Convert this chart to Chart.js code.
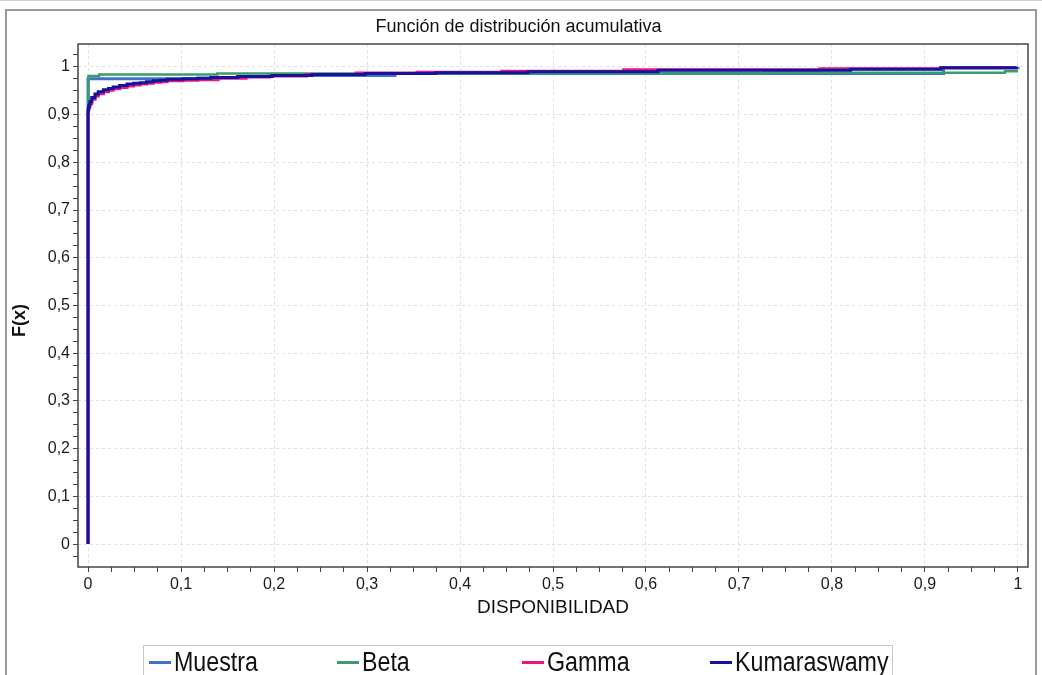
<!DOCTYPE html>
<html>
<head>
<meta charset="utf-8">
<title>Función de distribución acumulativa</title>
<script src="https://cdn.jsdelivr.net/npm/chart.js@4"></script>
<style>
  body { margin: 0; background: #fff; overflow: hidden; }
  #contenedor { position: relative; width: 1042px; height: 675px; }
  #leyenda {
    position: absolute; left: 143px; top: 645px; width: 750px; height: 40px;
    border: 1px solid #c6c6c6; box-sizing: border-box;
    font-family: "Liberation Sans", Arial, sans-serif;
    font-size: 27px; color: #111;
  }
  .item { position: absolute; top: 1px; height: 30px; display: flex; align-items: center; white-space: nowrap; }
  .linea { width: 22px; height: 3px; margin-right: 3px; }
  .texto { display: inline-block; transform: scaleX(0.86); transform-origin: left center; }
</style>
</head>
<body>
<div id="contenedor">
  <canvas id="myChart" width="1042" height="675"></canvas>
  <div id="leyenda"></div>
</div>
<script>
// series (x = disponibilidad, y = F(x))
const muestraX = [0, 0, 0.102, 0.118, 0.132, 0.161, 0.198, 0.33, 0.92, 1.0];
const muestraY = [0, 0.975, 0.975, 0.976, 0.978, 0.980, 0.982, 0.986, 0.998, 1.0];

const betaX = [0, 0.0005, 0.012, 0.139, 0.727, 0.986, 1.0];
const betaY = [0.915, 0.981, 0.984, 0.986, 0.988, 0.991, 0.991];

const gammaX = [0, 0, 0.0005, 0.001, 0.002, 0.004, 0.0075, 0.011, 0.0165, 0.022, 0.027, 0.034, 0.042, 0.049, 0.056, 0.063, 0.07, 0.078, 0.085, 0.102, 0.118, 0.14, 0.17, 0.195, 0.235, 0.288, 0.354, 0.445, 0.576, 0.787, 0.917, 0.998];
const gammaY = [0, 0.905, 0.911, 0.916, 0.923, 0.932, 0.939, 0.944, 0.948, 0.951, 0.954, 0.957, 0.960, 0.962, 0.964, 0.966, 0.968, 0.969, 0.971, 0.972, 0.973, 0.976, 0.979, 0.981, 0.984, 0.987, 0.989, 0.991, 0.994, 0.996, 0.998, 1.0];

const kumX = [0, 0, 0.0005, 0.001, 0.002, 0.004, 0.0075, 0.011, 0.0165, 0.022, 0.027, 0.034, 0.042, 0.049, 0.056, 0.063, 0.07, 0.078, 0.085, 0.102, 0.118, 0.132, 0.161, 0.198, 0.241, 0.298, 0.374, 0.473, 0.613, 0.82, 0.917, 0.998];
const kumY = [0, 0.91, 0.915, 0.92, 0.927, 0.936, 0.943, 0.948, 0.952, 0.955, 0.958, 0.961, 0.964, 0.966, 0.967, 0.969, 0.971, 0.972, 0.974, 0.975, 0.976, 0.978, 0.980, 0.982, 0.984, 0.986, 0.988, 0.990, 0.993, 0.995, 0.998, 1.0];

const nombres = ["Muestra", "Beta", "Gamma", "Kumaraswamy"];
const colores = ["#3f73c8", "#3a9c6c", "#e8177d", "#13139e"];

// marcas de los ejes
const ticksX = [0, 0.1, 0.2, 0.3, 0.4, 0.5, 0.6, 0.7, 0.8, 0.9, 1];
const etiquetasX = ["0", "0,1", "0,2", "0,3", "0,4", "0,5", "0,6", "0,7", "0,8", "0,9", "1"];
const ticksY = [0, 0.1, 0.2, 0.3, 0.4, 0.5, 0.6, 0.7, 0.8, 0.9, 1];
const etiquetasY = ["0", "0,1", "0,2", "0,3", "0,4", "0,5", "0,6", "0,7", "0,8", "0,9", "1"];

const fuente = '"Liberation Sans", Arial, sans-serif';

function puntos(xs, ys) {
  return xs.map((x, i) => ({ x: x, y: ys[i] }));
}

function indiceMayor(lista, v) {
  return lista.findIndex(t => Math.abs(t - v) < 1e-6);
}

// marcas menores cada 0.025
function marcas(scale) {
  const paso = 0.025;
  const v = [];
  for (let i = Math.ceil(scale.min / paso - 1e-9); i * paso <= scale.max + 1e-9; i++) {
    v.push({ value: +(i * paso).toFixed(4) });
  }
  scale.ticks = v;
}

function ejeOpciones(lista, etiquetas, min, max) {
  return {
    type: "linear",
    min: min,
    max: max,
    afterBuildTicks: marcas,
    border: { display: false, dash: [3, 3] },
    grid: {
      color: (ctx) => (ctx.tick && indiceMayor(lista, ctx.tick.value) >= 0) ? "#e0e0e0" : "rgba(0,0,0,0)",
      tickColor: "#444",
      tickLength: 5,
      lineWidth: 1
    },
    ticks: {
      autoSkip: false,
      maxRotation: 0,
      padding: 3,
      color: "#1a1a1a",
      font: { family: fuente, size: 16 },
      callback: (value) => {
        const i = indiceMayor(lista, value);
        return i >= 0 ? etiquetas[i] : "";
      }
    }
  };
}

const marco = {
  id: "marco",
  beforeDraw(chart) {
    const ctx = chart.ctx;
    ctx.save();
    ctx.fillStyle = "#fff";
    ctx.fillRect(0, 0, chart.width, chart.height);
    ctx.strokeStyle = "#cfcfcf";
    ctx.lineWidth = 1;
    ctx.beginPath();
    ctx.moveTo(0, 0.5);
    ctx.lineTo(chart.width, 0.5);
    ctx.stroke();
    ctx.strokeStyle = "#9a9a9a";
    ctx.lineWidth = 2;
    ctx.strokeRect(6, 10, 1030, 700);
    ctx.restore();
  },
  afterDraw(chart) {
    const a = chart.chartArea;
    const ctx = chart.ctx;
    ctx.save();
    ctx.strokeStyle = "#444";
    ctx.lineWidth = 1.5;
    ctx.strokeRect(a.left, a.top, a.right - a.left, a.bottom - a.top);
    ctx.restore();
  }
};

const series = [
  { x: muestraX, y: muestraY, ancho: 3, orden: 4 },
  { x: betaX, y: betaY, ancho: 2.5, orden: 3 },
  { x: gammaX, y: gammaY, ancho: 3, orden: 2 },
  { x: kumX, y: kumY, ancho: 3, orden: 1 }
];

const grafica = document.getElementById("myChart").getContext("2d");

const myChart = new Chart(grafica, {
  type: "line",
  data: {
    datasets: series.map((s, i) => ({
      label: nombres[i],
      data: puntos(s.x, s.y),
      borderColor: colores[i],
      backgroundColor: colores[i],
      borderWidth: s.ancho,
      stepped: true,
      pointRadius: 0,
      fill: false,
      order: s.orden
    }))
  },
  options: {
    responsive: false,
    animation: false,
    layout: { padding: { left: 9, right: 14, top: 0, bottom: 56 } },
    plugins: {
      legend: { display: false },
      tooltip: { enabled: false },
      title: {
        display: true,
        text: "Función de distribución acumulativa",
        color: "#111",
        font: { family: fuente, size: 18, weight: "normal" },
        padding: { top: 16, bottom: 6.4 }
      }
    },
    scales: {
      x: Object.assign(ejeOpciones(ticksX, etiquetasX, -0.0108, 1.0108), {
        title: {
          display: true,
          text: "DISPONIBILIDAD",
          color: "#111",
          font: { family: fuente, size: 19 },
          padding: 0
        },
        afterFit: (scale) => { scale.height = 52; }
      }),
      y: Object.assign(ejeOpciones(ticksY, etiquetasY, -0.048, 1.048), {
        title: {
          display: true,
          text: "F(x)      ",
          color: "#111",
          font: { family: fuente, size: 18, weight: "bold" },
          padding: 0
        },
        afterFit: (scale) => { scale.width = 69; }
      })
    }
  },
  plugins: [marco]
});

// leyenda
const leyenda = document.getElementById("leyenda");
const posiciones = [5, 193, 378, 566];
nombres.forEach((n, i) => {
  const item = document.createElement("div");
  item.className = "item";
  item.style.left = posiciones[i] + "px";
  item.innerHTML = `<span class="linea" style="background:${colores[i]}"></span><span class="texto">${n}</span>`;
  leyenda.appendChild(item);
});
</script>
</body>
</html>
